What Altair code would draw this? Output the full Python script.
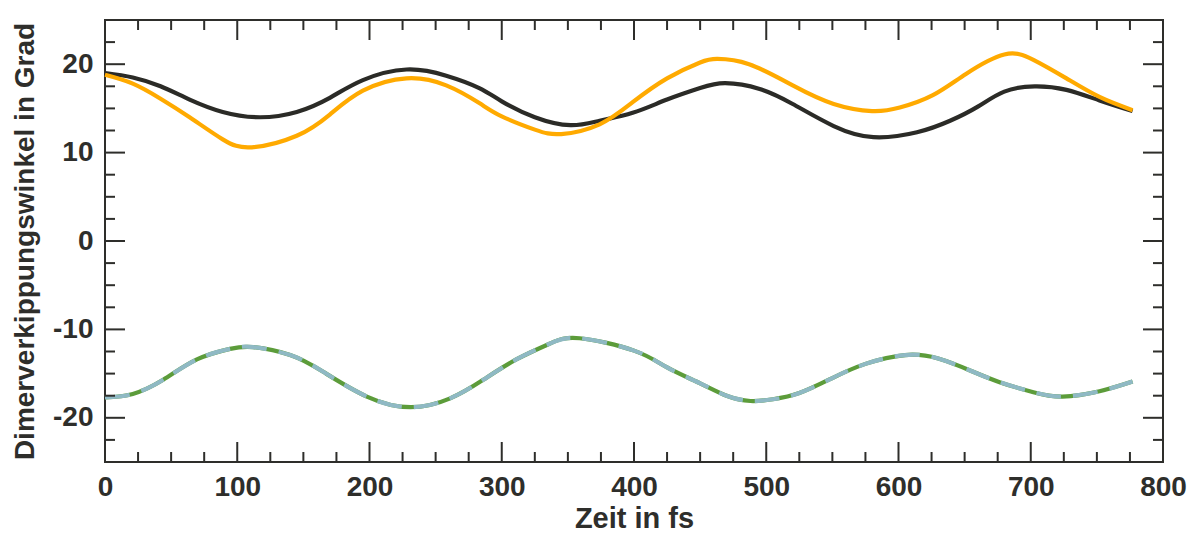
import altair as alt
import pandas as pd

# ---- data ----
black_x = [0, 21, 42, 64, 89, 117, 145, 170, 195, 228, 258, 283, 300, 325, 352, 374, 399, 425, 450, 469, 495, 520, 551, 581, 614, 639, 660, 680, 703, 727, 752, 777]
black_y = [19.0, 18.5, 17.5, 16.0, 14.6, 14.0, 14.6, 16.2, 18.2, 19.4, 18.7, 17.3, 15.8, 14.0, 13.1, 13.6, 14.5, 16.0, 17.3, 17.85, 17.2, 15.5, 13.0, 11.75, 12.3, 13.6, 15.2, 16.9, 17.5, 17.1, 15.9, 14.7]

orange_x = [0, 21, 42, 64, 89, 111, 145, 170, 195, 228, 258, 283, 300, 325, 345, 374, 399, 425, 450, 463, 487, 520, 551, 580, 601, 626, 651, 680, 702, 727, 752, 777]
orange_y = [18.8, 17.8, 16.1, 14.0, 11.5, 10.6, 11.9, 14.3, 17.0, 18.4, 17.6, 15.6, 14.1, 12.6, 12.1, 13.2, 15.7, 18.4, 20.2, 20.6, 20.0, 17.6, 15.5, 14.7, 15.1, 16.5, 18.9, 21.1, 20.5, 18.4, 16.3, 14.8]

lower_x = [0, 21, 44, 69.5, 94.5, 112, 140, 165, 198, 231, 261, 286, 311, 336.5, 359, 400, 425, 450, 470, 488, 505, 525, 550, 575, 605, 630, 655, 677, 702, 724, 752, 777]
lower_y = [-17.7, -17.3, -15.7, -13.4, -12.2, -12.0, -12.9, -14.8, -17.6, -18.8, -17.8, -15.7, -13.4, -11.6, -11.0, -12.4, -14.3, -16.1, -17.5, -18.1, -17.9, -17.2, -15.5, -13.9, -12.9, -13.3, -14.7, -16.0, -17.1, -17.6, -17.0, -15.9]

x_major = [0, 100, 200, 300, 400, 500, 600, 700, 800]
x_minor = [25, 50, 75, 125, 150, 175, 225, 250, 275, 325, 350, 375, 425, 450, 475, 525, 550, 575, 625, 650, 675, 725, 750, 775]
y_major = [-20, -10, 0, 10, 20]
y_minor = [-22.5, -17.5, -15, -12.5, -7.5, -5, -2.5, 2.5, 5, 7.5, 12.5, 15, 17.5, 22.5]

W, H = 1058, 442
FONT = "Liberation Sans"
INK = "#2e2e2b"

xs = alt.Scale(domain=[0, 800], nice=False, zero=False)
ys = alt.Scale(domain=[-25, 25], nice=False, zero=False)

x_axis = alt.Axis(values=x_major, ticks=False, domain=False, grid=False,
                  labelFont=FONT, labelFontSize=28, labelFontWeight="bold",
                  labelColor=INK, labelPadding=11, title="Zeit in fs",
                  labelExpr="datum.value + ''",
                  titleFont=FONT, titleFontSize=29, titleFontWeight="bold",
                  titleColor=INK, titlePadding=3, labelFlush=False)
y_axis = alt.Axis(values=y_major, ticks=False, domain=False, grid=False,
                  labelFont=FONT, labelFontSize=28, labelFontWeight="bold",
                  labelColor=INK, labelPadding=12, title="Dimerverkippungswinkel in Grad",
                  labelExpr="datum.value + ''",
                  titleFont=FONT, titleFontSize=28, titleFontWeight="bold",
                  titleColor=INK, titlePadding=13, labelFlush=False)


def line_df(xv, yv):
    return pd.DataFrame({"t": xv, "v": yv})


def line(xv, yv, color, dash=None):
    kw = dict(color=color, strokeWidth=4.2, interpolate="natural", strokeCap="butt")
    if dash:
        kw["strokeDash"] = dash
    return alt.Chart(line_df(xv, yv)).mark_line(**kw).encode(
        x=alt.X("t:Q", scale=xs, axis=x_axis),
        y=alt.Y("v:Q", scale=ys, axis=y_axis),
    )


def xticks(vals, y0, y1):
    return alt.Chart(pd.DataFrame({"t": vals})).mark_rule(color=INK, strokeWidth=2).encode(
        x=alt.X("t:Q", scale=xs, axis=x_axis), y=alt.value(y0), y2=alt.value(y1))


def yticks(vals, x0, x1):
    return alt.Chart(pd.DataFrame({"v": vals})).mark_rule(color=INK, strokeWidth=2).encode(
        y=alt.Y("v:Q", scale=ys, axis=y_axis), x=alt.value(x0), x2=alt.value(x1))


layers = [
    line(lower_x, lower_y, "#5c9c3a"),
    line(lower_x, lower_y, "#8fb9c4", dash=[25, 12]),
    line(black_x, black_y, "#2b2b27"),
    line(orange_x, orange_y, "#ffaa00"),
    xticks(x_major, H, H - 20), xticks(x_minor, H, H - 10),
    xticks(x_major, 0, 20), xticks(x_minor, 0, 10),
    yticks(y_major, 0, 20), yticks(y_minor, 0, 10),
    yticks(y_major, W, W - 20), yticks(y_minor, W, W - 10),
]

chart = alt.layer(*layers).properties(
    width=W, height=H,
    autosize=alt.AutoSizeParams(type="none"),
    padding={"left": 97, "top": 12, "right": 28, "bottom": 70},
    background="white",
).configure_view(stroke=INK, strokeWidth=2)

chart.save("out.html", embed_options={"renderer": "svg", "actions": False})
